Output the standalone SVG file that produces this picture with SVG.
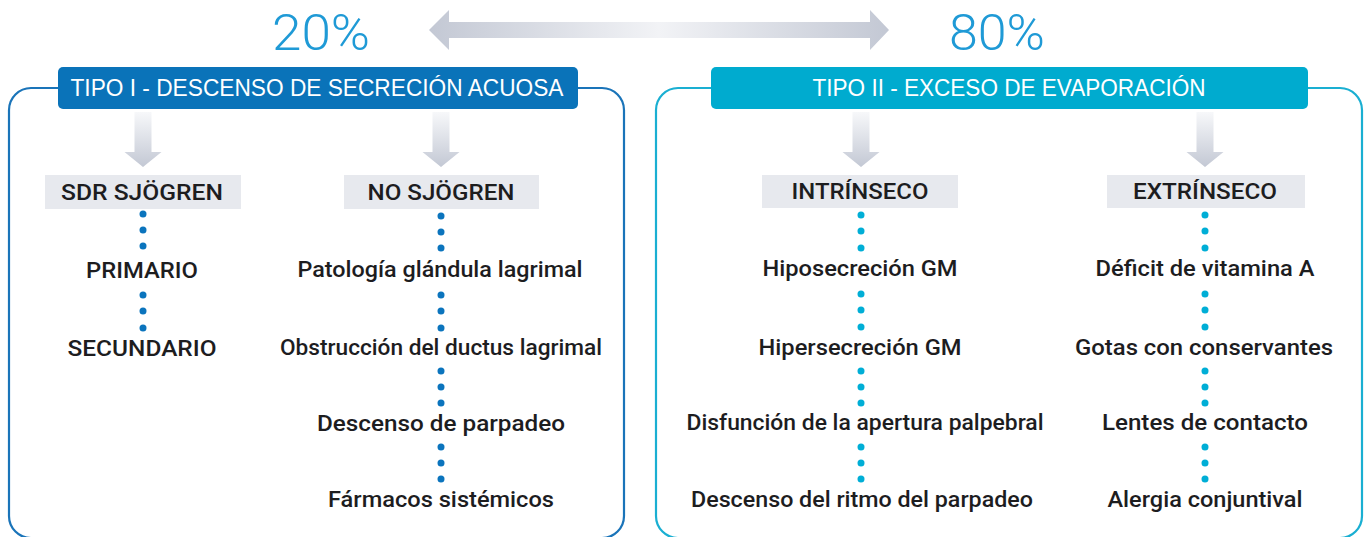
<svg xmlns="http://www.w3.org/2000/svg" width="1367" height="537" viewBox="0 0 1367 537">
<defs>
<linearGradient id="hg" x1="429" y1="0" x2="889" y2="0" gradientUnits="userSpaceOnUse">
<stop offset="0" stop-color="#c3c8d4"/><stop offset="0.5" stop-color="#f2f3f6"/><stop offset="1" stop-color="#c3c8d4"/>
</linearGradient>
<linearGradient id="vg" x1="0" y1="0" x2="0" y2="1">
<stop offset="0" stop-color="#f7f8fa"/><stop offset="1" stop-color="#c3c8d4"/>
</linearGradient>
<style>
.pct{font-family:Roboto,"Liberation Sans",sans-serif;font-weight:300;font-size:50px;fill:#1f9ad6;text-anchor:middle}
.ttl{font-family:"Liberation Sans",Arial,sans-serif;font-size:23px;fill:#ffffff;text-anchor:middle}
.lbl{font-family:Roboto,"Liberation Sans",sans-serif;font-weight:500;font-size:21.5px;fill:#1d1d1f;text-anchor:middle}
.gbox{fill:#e7e9ee}
.f1{fill:none;stroke:#1a74b9;stroke-width:2.2}
.f2{fill:none;stroke:#1aafd2;stroke-width:2.2}
.d1{fill:#0b74bd}
.d2{fill:#00aed6}
.darr{fill:url(#vg)}
</style>
</defs>
<rect width="1367" height="537" fill="#ffffff"/>

<g id="percent-arrow">
<path d="M429,30 L449,10 L449,22 L870,22 L870,10 L889,30 L870,50 L870,38 L449,38 L449,50 Z" fill="url(#hg)"/>
<text class="pct" x="321" y="50" textLength="98" lengthAdjust="spacingAndGlyphs">20%</text>
<text class="pct" x="997" y="50" textLength="96" lengthAdjust="spacingAndGlyphs">80%</text>
</g>

<g id="tipo1">
<rect class="f1" x="9" y="88" width="615" height="450" rx="22"/>
<rect x="58" y="67" width="520" height="42" rx="5" fill="#0a73b9"/>
<text class="ttl" x="317" y="96" textLength="493" lengthAdjust="spacingAndGlyphs">TIPO I - DESCENSO DE SECRECIÓN ACUOSA</text>
</g>

<g id="tipo2">
<rect class="f2" x="656" y="88" width="706" height="450" rx="22"/>
<rect x="711" y="67" width="597" height="42" rx="5" fill="#00abcf"/>
<text class="ttl" x="1009" y="96" textLength="393" lengthAdjust="spacingAndGlyphs">TIPO II - EXCESO DE EVAPORACIÓN</text>
</g>

<g id="connectors">
<path class="darr" d="M134.5,112 h17 v40 h10 l-18.5,15 l-18.5,-15 h10 Z"/>
<path class="darr" d="M432.5,112 h17 v40 h10 l-18.5,15 l-18.5,-15 h10 Z"/>
<path class="darr" d="M852.5,112 h17 v40 h10 l-18.5,15 l-18.5,-15 h10 Z"/>
<path class="darr" d="M1196.5,112 h17 v40 h10 l-18.5,15 l-18.5,-15 h10 Z"/>
<g class="d1">
<circle cx="143" cy="214" r="3.5"/><circle cx="143" cy="230" r="3.5"/><circle cx="143" cy="246" r="3.5"/>
<circle cx="143" cy="295" r="3.5"/><circle cx="143" cy="311" r="3.5"/><circle cx="143" cy="328" r="3.5"/>
<circle cx="441" cy="216" r="3.5"/><circle cx="441" cy="232" r="3.5"/><circle cx="441" cy="248" r="3.5"/>
<circle cx="441" cy="295" r="3.5"/><circle cx="441" cy="311" r="3.5"/><circle cx="441" cy="328" r="3.5"/>
<circle cx="441" cy="371" r="3.5"/><circle cx="441" cy="387" r="3.5"/><circle cx="441" cy="403" r="3.5"/>
<circle cx="441" cy="447" r="3.5"/><circle cx="441" cy="463" r="3.5"/><circle cx="441" cy="479" r="3.5"/>
</g>
<g class="d2">
<circle cx="861" cy="215" r="3.5"/><circle cx="861" cy="231" r="3.5"/><circle cx="861" cy="248" r="3.5"/>
<circle cx="861" cy="294" r="3.5"/><circle cx="861" cy="310" r="3.5"/><circle cx="861" cy="327" r="3.5"/>
<circle cx="861" cy="371" r="3.5"/><circle cx="861" cy="387" r="3.5"/><circle cx="861" cy="403" r="3.5"/>
<circle cx="861" cy="447" r="3.5"/><circle cx="861" cy="463" r="3.5"/><circle cx="861" cy="479" r="3.5"/>
<circle cx="1205" cy="215" r="3.5"/><circle cx="1205" cy="231" r="3.5"/><circle cx="1205" cy="248" r="3.5"/>
<circle cx="1205" cy="294" r="3.5"/><circle cx="1205" cy="310" r="3.5"/><circle cx="1205" cy="327" r="3.5"/>
<circle cx="1205" cy="371" r="3.5"/><circle cx="1205" cy="387" r="3.5"/><circle cx="1205" cy="403" r="3.5"/>
<circle cx="1205" cy="447" r="3.5"/><circle cx="1205" cy="463" r="3.5"/><circle cx="1205" cy="479" r="3.5"/>
</g>
</g>

<g id="sdr-sjogren">
<rect class="gbox" x="45" y="175" width="196" height="34"/>
<text class="lbl" x="142" y="200" textLength="162" lengthAdjust="spacingAndGlyphs">SDR SJÖGREN</text>
</g>
<g id="primario"><text class="lbl" x="142" y="278" textLength="112" lengthAdjust="spacingAndGlyphs">PRIMARIO</text></g>
<g id="secundario"><text class="lbl" x="142" y="356" textLength="149" lengthAdjust="spacingAndGlyphs">SECUNDARIO</text></g>

<g id="no-sjogren">
<rect class="gbox" x="344" y="175" width="195" height="34"/>
<text class="lbl" x="441" y="200" textLength="147" lengthAdjust="spacingAndGlyphs">NO SJÖGREN</text>
</g>
<g id="patologia"><text class="lbl" x="440" y="277" textLength="285" lengthAdjust="spacingAndGlyphs">Patología glándula lagrimal</text></g>
<g id="obstruccion"><text class="lbl" x="441" y="355" textLength="322" lengthAdjust="spacingAndGlyphs">Obstrucción del ductus lagrimal</text></g>
<g id="descenso-parpadeo"><text class="lbl" x="441" y="431" textLength="248" lengthAdjust="spacingAndGlyphs">Descenso de parpadeo</text></g>
<g id="farmacos"><text class="lbl" x="441" y="507" textLength="226" lengthAdjust="spacingAndGlyphs">Fármacos sistémicos</text></g>

<g id="intrinseco">
<rect class="gbox" x="762" y="175" width="196" height="33"/>
<text class="lbl" x="860" y="199" textLength="137" lengthAdjust="spacingAndGlyphs">INTRÍNSECO</text>
</g>
<g id="hiposecrecion"><text class="lbl" x="860" y="276" textLength="195" lengthAdjust="spacingAndGlyphs">Hiposecreción GM</text></g>
<g id="hipersecrecion"><text class="lbl" x="860" y="355" textLength="203" lengthAdjust="spacingAndGlyphs">Hipersecreción GM</text></g>
<g id="disfuncion"><text class="lbl" x="865" y="430" textLength="357" lengthAdjust="spacingAndGlyphs">Disfunción de la apertura palpebral</text></g>
<g id="descenso-ritmo"><text class="lbl" x="862" y="507" textLength="342" lengthAdjust="spacingAndGlyphs">Descenso del ritmo del parpadeo</text></g>

<g id="extrinseco">
<rect class="gbox" x="1107" y="175" width="198" height="33"/>
<text class="lbl" x="1205" y="199" textLength="144" lengthAdjust="spacingAndGlyphs">EXTRÍNSECO</text>
</g>
<g id="deficit"><text class="lbl" x="1205" y="276" textLength="219" lengthAdjust="spacingAndGlyphs">Déficit de vitamina A</text></g>
<g id="gotas"><text class="lbl" x="1204" y="355" textLength="258" lengthAdjust="spacingAndGlyphs">Gotas con conservantes</text></g>
<g id="lentes"><text class="lbl" x="1205" y="430" textLength="206" lengthAdjust="spacingAndGlyphs">Lentes de contacto</text></g>
<g id="alergia"><text class="lbl" x="1205" y="507" textLength="195" lengthAdjust="spacingAndGlyphs">Alergia conjuntival</text></g>
</svg>
